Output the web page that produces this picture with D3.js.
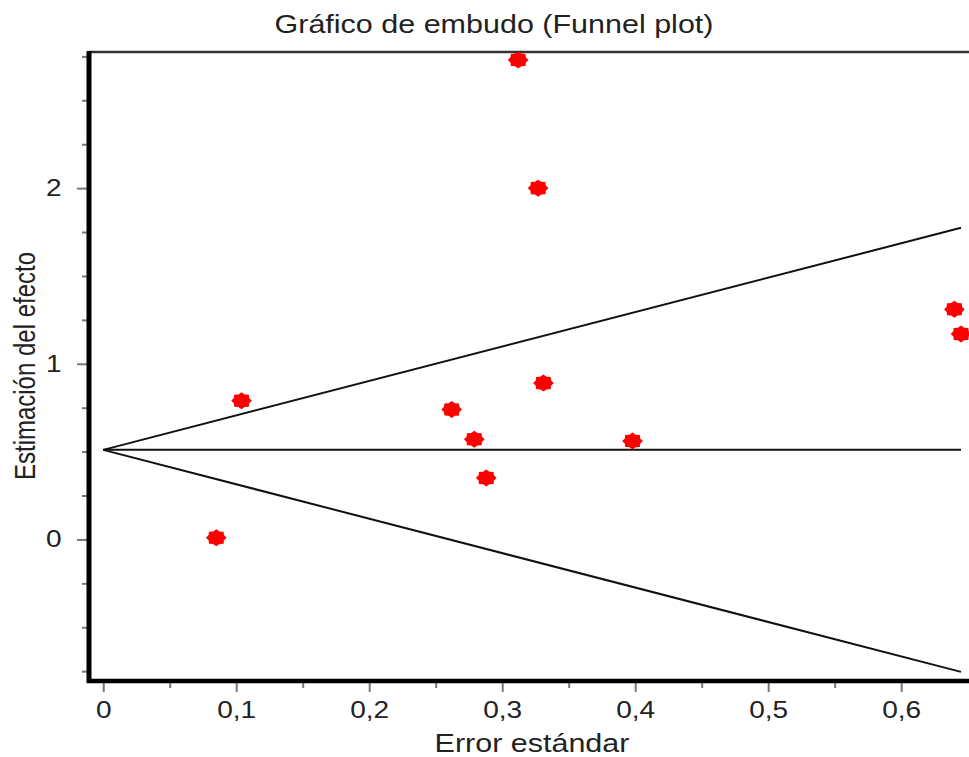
<!DOCTYPE html>
<html>
<head>
<meta charset="utf-8">
<script src="https://cdn.jsdelivr.net/npm/d3@7"></script>
<style>
  body { margin: 0; background: #fff; }
  svg { display: block; font-family: "Liberation Sans", Arial, sans-serif; }
</style>
</head>
<body>
<svg id="chart" width="969" height="757"></svg>
<script>
// standard errors (x) and effect estimates (y) of the studies
var seValues = [0.085, 0.104, 0.262, 0.279, 0.288, 0.312, 0.327, 0.331, 0.398, 0.640, 0.645];
var estValues = [0.01, 0.79, 0.74, 0.57, 0.35, 2.73, 2.00, 0.89, 0.56, 1.31, 1.17];
// pooled estimate and funnel limits (pooled +/- z * se)
var pooled = 0.51;
var zValue = 1.96;
var seMax = 0.645;
var xMajor = [0, 0.1, 0.2, 0.3, 0.4, 0.5, 0.6];
var xMinor = [0.05, 0.15, 0.25, 0.35, 0.45, 0.55];
var yMajor = [0, 1, 2];
var yMinor = [-0.75, -0.5, -0.25, 0.25, 0.5, 0.75, 1.25, 1.5, 1.75, 2.25, 2.5, 2.75];

function drawFunnel(id) {

var svg = d3.select(id);
var stretch = 1.22; // the picture is a bit wider than it is tall

var pLeft = 89, pRight = 969, pTop = 52, pBottom = 681;

var x = d3.scaleLinear().domain([-0.0107, 0.6510]).range([pLeft, pRight]);
var y = d3.scaleLinear().domain([-0.806, 2.775]).range([pBottom, pTop]);

var locale = d3.formatLocale({decimal: ',', thousands: '.', grouping: [3], currency: ['', '']});
var fmt = locale.format('~g');

// title
svg.append('text')
    .attr('transform', 'translate(494,33)scale(' + stretch + ',1)')
    .attr('text-anchor', 'middle')
    .attr('fill', '#222')
    .style('font-size', '25px')
    .text('Gráfico de embudo (Funnel plot)');

// minor ticks
svg.append('g')
    .attr('transform', 'translate(0,' + (pBottom + 2) + ')')
    .call(d3.axisBottom(x).tickValues(xMinor).tickSize(5).tickFormat(''))
    .call(g => g.select('.domain').remove())
    .call(g => g.selectAll('line').attr('stroke', '#777').attr('stroke-width', 2));

svg.append('g')
    .attr('transform', 'translate(' + (pLeft - 2) + ',0)')
    .call(d3.axisLeft(y).tickValues(yMinor).tickSize(5).tickFormat(''))
    .call(g => g.select('.domain').remove())
    .call(g => g.selectAll('line').attr('stroke', '#777').attr('stroke-width', 2));

// major ticks with labels
var xAxis = svg.append('g')
    .attr('transform', 'translate(0,' + (pBottom + 2) + ')')
    .call(d3.axisBottom(x).tickValues(xMajor).tickSize(9).tickPadding(10).tickFormat(fmt));
xAxis.select('.domain').remove();
xAxis.selectAll('line').attr('stroke', '#777').attr('stroke-width', 2);
xAxis.selectAll('text')
    .attr('fill', '#222')
    .style('font-size', '23px')
    .attr('transform', 'scale(' + stretch + ',1)');

var yAxis = svg.append('g')
    .attr('transform', 'translate(' + (pLeft - 2) + ',0)')
    .call(d3.axisLeft(y).tickValues(yMajor).tickSize(10).tickPadding(6).tickFormat(fmt));
yAxis.select('.domain').remove();
yAxis.selectAll('line').attr('stroke', '#777').attr('stroke-width', 2);
yAxis.selectAll('text')
    .attr('fill', '#222')
    .style('font-size', '23px')
    .attr('transform', 'translate(-6,0)scale(' + stretch + ',1)');

// frame: thin top, heavy left and bottom
svg.append('line')
    .attr('x1', pLeft).attr('x2', pRight)
    .attr('y1', pTop).attr('y2', pTop)
    .attr('stroke', '#333').attr('stroke-width', 2.5);
svg.append('line')
    .attr('x1', pLeft - 2).attr('x2', pRight)
    .attr('y1', pBottom).attr('y2', pBottom)
    .attr('stroke', '#000').attr('stroke-width', 4.5);
svg.append('line')
    .attr('x1', pLeft).attr('x2', pLeft)
    .attr('y1', pTop - 1).attr('y2', pBottom + 2)
    .attr('stroke', '#000').attr('stroke-width', 5);

// funnel: pooled line and 95% limits
var funnel = [
    [[0, pooled], [seMax, pooled]],
    [[0, pooled], [seMax, pooled + zValue * seMax]],
    [[0, pooled], [seMax, pooled - zValue * seMax]]
];
var line = d3.line().x(d => x(d[0])).y(d => y(d[1]));
svg.append('g')
    .selectAll('path')
    .data(funnel)
    .enter().append('path')
    .attr('d', line)
    .attr('fill', 'none')
    .attr('stroke', '#111')
    .attr('stroke-width', 2);

// study markers: small red bursts
var burst = d3.lineRadial()
    .angle(d => d[0])
    .radius(d => d[1])
    .curve(d3.curveLinearClosed);
var burstPts = d3.range(16).map(i => [i * Math.PI / 8, i % 2 === 0 ? 8.5 : 6.8]);

svg.append('g')
    .selectAll('path')
    .data(seValues.map((s, i) => ({se: s, est: estValues[i]})))
    .enter().append('path')
    .attr('d', burst(burstPts))
    .attr('fill', '#ff0000')
    .attr('transform', d => 'translate(' + x(d.se) + ',' + y(d.est) + ')scale(' + stretch + ',1)');

// axis titles
svg.append('text')
    .attr('transform', 'translate(532,752)scale(' + stretch + ',1)')
    .attr('text-anchor', 'middle')
    .attr('fill', '#222')
    .style('font-size', '25px')
    .text('Error estándar');

svg.append('text')
    .attr('transform', 'translate(35,366)scale(' + stretch + ',1)rotate(-90)')
    .attr('text-anchor', 'middle')
    .attr('fill', '#222')
    .style('font-size', '24px')
    .text('Estimación del efecto');
}

drawFunnel('#chart');
</script>
</body>
</html>
